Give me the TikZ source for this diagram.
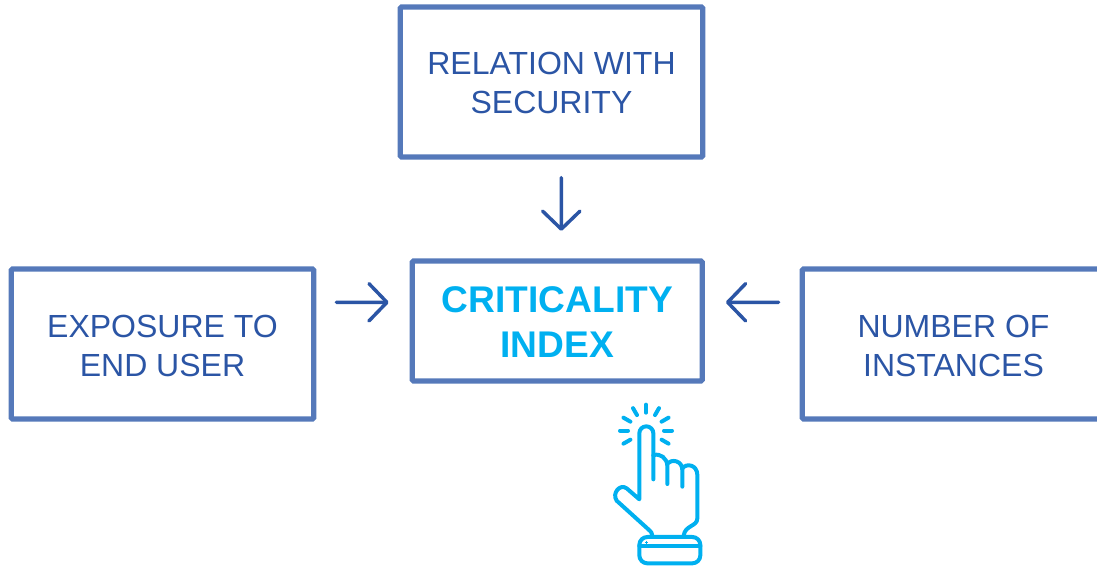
\documentclass[tikz,border=0pt]{standalone}
\usepackage{fontspec}
\setmainfont{Liberation Sans}
\usetikzlibrary{arrows.meta}
\definecolor{boxblue}{HTML}{5579BA}
\definecolor{textblue}{HTML}{2B55A5}
\definecolor{skyblue}{HTML}{00B0F0}
\newcommand{\nudge}[1]{\rule{0pt}{#1}}
\tikzset{
 factor/.style={draw=boxblue,line width=4pt,rounded corners=1pt,align=center,text=textblue,
   minimum width=226.8pt,minimum height=112.5pt,inner sep=0pt,font=\fontsize{24}{29.2}\selectfont},
 result/.style={factor,minimum width=217.5pt,minimum height=90pt,text=skyblue,
   font=\fontsize{27.85}{33.8}\selectfont\bfseries},
 flow/.style={draw=textblue,line width=2.6pt,line cap=round,
   -{Straight Barb[length=13.5pt,width=28pt,line width=2.6pt,round]}},
 hand/.style={draw=skyblue,line width=3pt,line cap=round,line join=round}
}
\begin{document}
\begin{tikzpicture}[x=0.75pt,y=-0.75pt]
\clip (0,0) rectangle (1097,566);
\node[factor] (N-top) at (551.5,82) {\nudge{18.4pt}RELATION WITH\\SECURITY};
\node[factor] (N-left) at (162.5,344) {\nudge{19.8pt}EXPOSURE TO\\END USER};
\node[factor] (N-right) at (953.5,344) {\nudge{19.8pt}NUMBER OF\\INSTANCES};
\node[result] (N-crit) at (557.3,321) {\nudge{21.5pt}CRITICALITY\\INDEX};
\draw[flow,shorten <=13.5pt,shorten >=20.6pt] ([xshift=7.35pt]N-top.south) -- ([xshift=3pt]N-crit.north); % top
\draw[flow,shorten <=15pt,shorten >=15.7pt] ([yshift=31.3pt]N-left.east) -- ([yshift=14pt]N-crit.west); % left
\draw[flow,shorten <=15.75pt,shorten >=15.7pt] ([yshift=31.3pt]N-right.west) -- ([yshift=14pt]N-crit.east); % right
% hand, traced in zoomed pixels
\begin{scope}[shift={(590,390)},x=0.25pt,y=-0.25pt]
\foreach \a in {-90,-60,-30,0,30,-120,-150,180,150}{
 \draw[hand] (168,122) ++(\a:54) -- ++(\a:24);
}
\draw[hand] (190,268) -- (190,130) arc[start angle=0,end angle=-180,radius=21] -- (148,328)
 -- (110,295) .. controls (90,280) and (65,310) .. (80,332) -- (175,418) .. controls (183,425) and (187,430) .. (187,437);
\draw[hand] (190,196) .. controls (210,188) and (232,205) .. (232,228) -- (232,282);
\draw[hand] (232,222) .. controls (245,205) and (277,212) .. (277,240) -- (277,290);
\draw[hand] (277,235) .. controls (290,218) and (322,225) .. (322,255) -- (322,385)
 .. controls (322,410) and (285,405) .. (281,437);
\draw[hand,rounded corners=6pt] (148,441) rectangle (331,520);
\draw[hand] (148,468) -- (331,468);
\draw[skyblue,line width=1.2pt] (165,457) -- (175,457) (170,452) -- (170,462);
\end{scope}
\end{tikzpicture}
\end{document}
